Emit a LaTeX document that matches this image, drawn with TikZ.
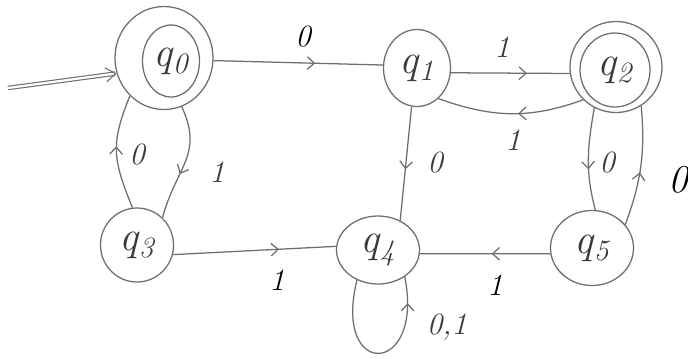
\documentclass[tikz,border=0pt]{standalone}
\usepackage{xcolor}
\usepackage{tikz}
\usetikzlibrary{arrows.meta, shapes.geometric, decorations.markings}
\definecolor{pencil}{HTML}{6E6E6E}
\definecolor{ink}{HTML}{3A3A3A}

\begin{document}
\begin{tikzpicture}[x=0.025cm, y=0.025cm,
    state/.style={draw=pencil, line width=0.9pt, ellipse, inner sep=0pt, text=ink,
      font=\fontsize{30}{30}\selectfont\itshape},
    edge/.style={draw=pencil, line width=0.9pt},
    mid/.style={postaction={decorate}, decoration={markings,
      mark=at position #1 with {\arrow[pencil]{Straight Barb[length=5pt, width=9pt]}}}},
    lbl/.style={font=\fontsize{22}{22}\selectfont\itshape},
    init/.style={draw=pencil, double=white, double distance=1.6pt, line width=0.8pt,
      -{Straight Barb[length=7pt, width=10pt]}}]
  \useasboundingbox (0,0) rectangle (688,-358);
  % states
  \foreach \nm/\x/\y/\w/\h/\t in
      {q0/164/58/98/103/{}, q1/417/68/67/77/{q\textsubscript{1}},
       q2/616/67/92/91/{}, q3/137/245/73/74/{q\textsubscript{3}},
       q4/378/250/83/68/{q\textsubscript{4}}, q5/592/248/83/75/{q\textsubscript{5}}} {
    \node[state, minimum width=\w*0.025cm, minimum height=\h*0.025cm] (\nm) at (\x,-\y) {\t};
  }
  \node[state, minimum width=57*0.025cm, minimum height=72*0.025cm] (q0in) at (171,-61) {q\textsubscript{0}};
  \node[state, minimum width=70*0.025cm, minimum height=74*0.025cm] (q2in) at (615,-70) {q\textsubscript{2}};
  % start arrow
  \coordinate (start) at (8,-88);
  \draw[init] (start) -- (q0.198);
  % transitions
  \draw[edge, mid=0.6] (q0.-3) -- (q1.175);
  \draw[edge, mid=0.64] (q1.-8) -- (q2.188);
  \draw[edge, mid=0.45] (q2.225) to[out=200, in=-20] (q1.-55);
  \draw[edge, mid=0.55] (q1.-98) -- (q4.53);
  \draw[edge, mid=0.55] (q3.97) to[out=112, in=248, looseness=1.2] (q0.228);
  \draw[edge, mid=0.6] (q0.-70) to[out=-65, in=75, looseness=1.2] (q3.47);
  \draw[edge, mid=0.65] (q3.-15) -- (q4.175);
  \draw[edge, mid=0.45] (q5.188) -- (q4.-5);
  \draw[edge, mid=0.6] (q2.242) to[out=260, in=105] (q5.85);
  \draw[edge, mid=0.45] (q5.35) to[out=70, in=275] (q2.-57);
  \draw[edge, mid=0.85] (q4.235) .. controls +(-25,-100) and +(20,-100) .. (q4.-45);
  % labels
  \foreach \nm/\x/\y/\t/\c in
      {l01/303/37/0/black, l12/502/47/1/ink, l21/513/140/1/ink, l14/435/163/0/ink,
       l30/137/155/0/ink, l03/217/172/1/ink, l25/607/163/0/ink,
       l34/277/280/1/black, l54/495/285/1/black, l44/447/327/{0,1}/ink} {
    \node[lbl, text=\c] (\nm) at (\x,-\y) {\t};
  }
  \node[lbl, text=black, font=\fontsize{28}{28}\selectfont\itshape] (l52) at (678,-180) {0};
\end{tikzpicture}
\end{document}
